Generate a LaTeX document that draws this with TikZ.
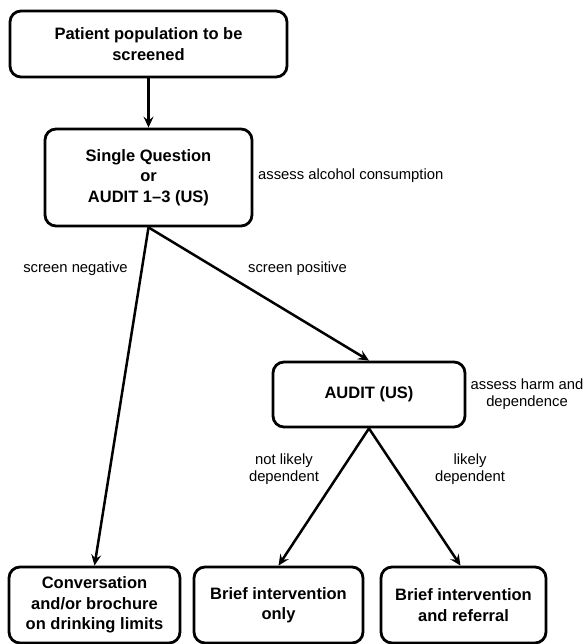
\documentclass[tikz,border=0pt]{standalone}
\usepackage{fontspec}
\setmainfont{Liberation Sans}
\usetikzlibrary{arrows.meta}
\begin{document}
\begin{tikzpicture}[x=1pt,y=-1pt,
  box/.style={draw=black, line width=2.8pt, rounded corners=11pt, fill=white,
    align=center, inner sep=0pt, font=\fontsize{16.5}{20.5}\selectfont\bfseries},
  lbl/.style={align=center, inner sep=0pt, font=\fontsize{14.8}{17.5}\selectfont},
  conn/.style={line width=2.5pt, -{Stealth[length=11pt,width=10pt,inset=4pt]}}]
\useasboundingbox (0,0) rectangle (586,644);
\node[box, minimum width=277pt, minimum height=66pt] (pop) at (148.5,44) {Patient population to be\\screened};
\node[box, minimum width=207pt, minimum height=97pt] (sq) at (148.5,177.5) {Single Question\\or\\AUDIT 1–3 (US)};
\node[box, minimum width=192pt, minimum height=65pt] (audit) at (369,394.5) {AUDIT (US)};
\node[box, minimum width=171pt, minimum height=76pt] (conv) at (94.5,605) {Conversation\\and/or brochure\\on drinking limits};
\node[box, minimum width=169pt, minimum height=76pt] (bio) at (278.5,605) {Brief intervention\\only};
\node[box, minimum width=165pt, minimum height=76pt] (bir) at (463.5,605) {Brief intervention\\and referral};

\node[lbl, anchor=west] (l1) at (258,176) {assess alcohol consumption};
\node[lbl] (l2) at (75.5,269) {screen negative};
\node[lbl] (l3) at (297.5,269) {screen positive};
\node[lbl] (l4) at (527,394) {assess harm and\\dependence};
\node[lbl] (l5) at (284,469) {not likely\\dependent};
\node[lbl] (l6) at (470,469) {likely\\dependent};

\draw[conn] (pop.south) -- (sq.north);
\draw[conn] (sq.south) -- (conv.north);
\draw[conn] (sq.south) -- (audit.north);
\draw[conn] (audit.south) -- (bio.north);
\draw[conn] (audit.south) -- ([xshift=-3pt]bir.north);
\end{tikzpicture}
\end{document}
